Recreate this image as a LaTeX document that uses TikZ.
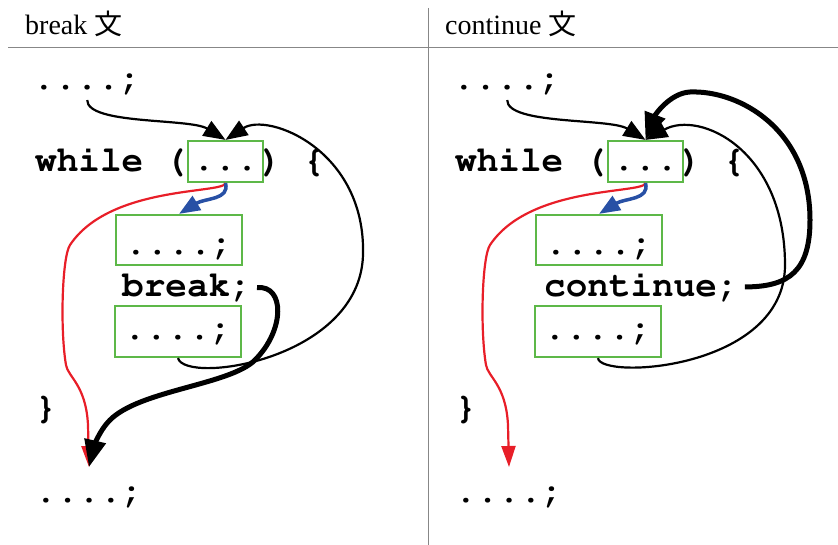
\documentclass[tikz,border=0pt]{standalone}
\usepackage{fontspec}
\setmainfont{Liberation Serif}
\setmonofont{Liberation Mono}
\newfontfamily\cjk{Noto Sans CJK JP}
\usetikzlibrary{arrows.meta}

\definecolor{boxgreen}{RGB}{93,184,72}
\definecolor{exitred}{RGB}{232,30,40}
\definecolor{enterblue}{RGB}{40,80,165}
\definecolor{rulegray}{RGB}{135,135,135}
\newcommand\codefont{\fontencoding{T1}\fontfamily{pcr}\fontseries{b}\fontsize{36}{40}\selectfont}

\tikzset{
  code/.style={font=\codefont, inner sep=0pt, anchor=base west},
  stmtbox/.style={draw=boxgreen, line width=2.2pt, font=\codefont, inner sep=0pt,
    text height=24pt, text depth=5pt},
  title/.style={font=\fontsize{28}{32}\selectfont, inner sep=0pt, anchor=base west},
  rule/.style={draw=rulegray, line width=1pt},
  flow/.style={line width=2.2pt, -{Triangle[length=22pt,width=17pt]}},
  jump/.style={line width=5pt, -{Triangle[length=27pt,width=21pt]}},
  exitflow/.style={draw=exitred, line width=2.2pt, -{Triangle[length=21pt,width=14pt]}},
  enterflow/.style={draw=enterblue, line width=3.5pt, -{Triangle[length=21pt,width=16pt]}}
}

\begin{document}
\begin{tikzpicture}[x=1pt, y=-1pt]
	\useasboundingbox (0,0) rectangle (838,545);
	% table rules
	\draw[rule] (8,48) -- (838,48);
	\draw[rule] (428,8) -- (428,545);
	% titles
	\node[title] (b-title) at (25,35) {break {\cjk 文}};
	\node[title] (c-title) at (445,35) {continue {\cjk 文}};

	% break: code
	\node[code] (b-pre) at (33,90) {....;};
	\node[code] (b-while) at (35,172) {while (};
	\node[stmtbox, minimum width=75pt, minimum height=41pt] (b-cond) at (225.5,161.5) {...};
	\node[code] (b-close) at (260,172) {) \{};
	\node[stmtbox, text height=35pt, minimum width=126pt, minimum height=50pt] (b-s1) at (179,240) {....;};
	\node[code] (b-brk) at (122,297) {break;};
	\node[stmtbox, text height=22pt, minimum width=126pt, minimum height=51pt] (b-s2) at (178,331.5) {....;};
	\node[code] (b-brace) at (35,418) {\}};
	\node[code] (b-post) at (35,502) {....;};
	\coordinate (b-exit) at (89,467);

	% break: arrows
	\draw[flow] ([yshift=-6pt]b-pre.south) .. controls (87,125) and (190,118) .. (b-cond.north);
	\draw[flow] (b-s2.south) .. controls (185,385) and (360,360) .. (363,255)
		.. controls (366,150) and (268,112) .. (b-cond.north);
	\draw[exitflow] (b-cond.south) .. controls (224,194) and (110,185) .. (70,245)
		.. controls (62,257) and (60,330) .. (66,365)
		.. controls (68,377) and (86,385) .. (88,425) -- (b-exit);
	\draw[enterflow] (b-cond.south) .. controls (230,200) and (205,198) .. (b-s1.north);
	\draw[jump] ([xshift=5pt]b-brk.east) .. controls (285,285) and (285,330) .. (255,360)
		.. controls (230,385) and (140,390) .. (110,420)
		.. controls (98,432) and (93,450) .. (b-exit);

	% continue: code
	\node[code] (c-pre) at (453,90) {....;};
	\node[code] (c-while) at (455,172) {while (};
	\node[stmtbox, minimum width=75pt, minimum height=41pt] (c-cond) at (645.5,161.5) {...};
	\node[code] (c-close) at (680,172) {) \{};
	\node[stmtbox, text height=35pt, minimum width=126pt, minimum height=50pt] (c-s1) at (599,240) {....;};
	\node[code] (c-cont) at (544,297) {continue;};
	\node[stmtbox, text height=22pt, minimum width=126pt, minimum height=51pt] (c-s2) at (598,331.5) {....;};
	\node[code] (c-brace) at (455,418) {\}};
	\node[code] (c-post) at (455,502) {....;};
	\coordinate (c-exit) at (509,467);

	% continue: arrows
	\draw[flow] ([yshift=-6pt]c-pre.south) .. controls (507,125) and (610,118) .. (c-cond.north);
	\draw[flow] (c-s2.south) .. controls (600,380) and (785,370) .. (785,265)
		.. controls (785,150) and (700,110) .. (c-cond.north);
	\draw[exitflow] (c-cond.south) .. controls (644,194) and (530,185) .. (490,245)
		.. controls (482,257) and (480,330) .. (486,365)
		.. controls (488,377) and (506,385) .. (508,425) -- (c-exit);
	\draw[enterflow] (c-cond.south) .. controls (650,200) and (625,198) .. (c-s1.north);
	\draw[jump] ([xshift=6pt]c-cont.east) .. controls (790,287) and (810,270) .. (810,220)
		.. controls (810,130) and (740,90) .. (690,92)
		.. controls (670,93) and (655,115) .. (c-cond.north);
\end{tikzpicture}
\end{document}
